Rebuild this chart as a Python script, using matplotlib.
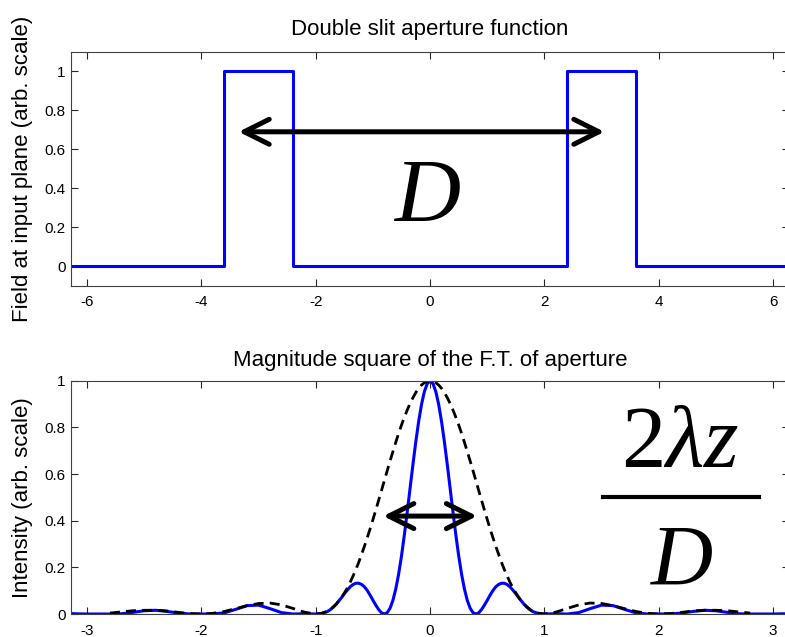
import numpy as np
import matplotlib.pyplot as plt

plt.rcParams['font.family'] = ['Liberation Sans', 'DejaVu Sans']
plt.rcParams['axes.unicode_minus'] = False
plt.rcParams['mathtext.fontset'] = 'custom'
plt.rcParams['mathtext.rm'] = 'Liberation Serif'
plt.rcParams['mathtext.it'] = 'Liberation Serif:italic'

# aperture (top panel): two slits
slit_edges = [(-3.6, -2.4), (2.4, 3.6)]
top_xlim = (-2 * np.pi, 2 * np.pi)

# diffraction pattern (bottom panel), read for x >= 0, symmetric about 0
pos_x = [0.0, 0.025, 0.05, 0.075, 0.1, 0.125, 0.15, 0.175, 0.2, 0.225, 0.25,
         0.275, 0.3, 0.325, 0.35, 0.375, 0.4, 0.425, 0.45, 0.475, 0.5, 0.525,
         0.55, 0.575, 0.6, 0.625, 0.65, 0.675, 0.7, 0.725, 0.75, 0.775, 0.8,
         0.825, 0.85, 0.875, 0.9, 0.95, 1.0, 1.1, 1.2, 1.3, 1.4, 1.5, 1.6,
         1.7, 1.8, 1.9, 2.0, 2.1, 2.2, 2.3, 2.4, 2.5, 2.6, 2.7, 2.8, 2.9,
         3.0, 3.1, 3.2]
intensity = [1.0, 0.988, 0.954, 0.899, 0.826, 0.739, 0.642, 0.540, 0.438,
             0.340, 0.250, 0.172, 0.108, 0.059, 0.025, 0.006, 0.0, 0.005,
             0.019, 0.038, 0.059, 0.081, 0.101, 0.117, 0.127, 0.132, 0.132,
             0.126, 0.116, 0.102, 0.087, 0.070, 0.055, 0.040, 0.028, 0.018,
             0.010, 0.002, 0.0, 0.001, 0.0, 0.006, 0.023, 0.038, 0.036, 0.020,
             0.005, 0.0, 0.0, 0.0, 0.004, 0.011, 0.016, 0.014, 0.007, 0.001,
             0.0, 0.0, 0.0, 0.001, 0.003]
envelope = [1.0, 0.998, 0.992, 0.982, 0.968, 0.950, 0.928, 0.903, 0.875,
            0.844, 0.811, 0.775, 0.737, 0.697, 0.657, 0.615, 0.573, 0.530,
            0.488, 0.446, 0.405, 0.365, 0.327, 0.290, 0.255, 0.221, 0.190,
            0.162, 0.135, 0.111, 0.090, 0.071, 0.055, 0.041, 0.029, 0.019,
            0.012, 0.003, 0.0, 0.008, 0.024, 0.039, 0.047, 0.045, 0.036,
            0.023, 0.011, 0.003, 0.0, 0.002, 0.007, 0.013, 0.016, 0.016,
            0.014, 0.009, 0.004]


def mirror(xs, ys):
    xs = np.asarray(xs)
    ys = np.asarray(ys)
    return np.concatenate([-xs[:0:-1], xs]), np.concatenate([ys[:0:-1], ys])


# build the step curve of the aperture
ap_x = [top_xlim[0]]
ap_y = [0]
for a, b in slit_edges:
    ap_x += [a, a, b, b]
    ap_y += [0, 1, 1, 0]
ap_x.append(top_xlim[1])
ap_y.append(0)

blue_x, blue_y = mirror(pos_x, intensity)
env_x, env_y = mirror(pos_x[:len(envelope)], envelope)

fig = plt.figure(figsize=(7.85, 6.37), dpi=100)
ax1 = fig.add_axes([0.0904, 0.5515, 0.915, 0.367])
ax2 = fig.add_axes([0.0904, 0.0361, 0.915, 0.366])


def style(ax):
    for s in ax.spines.values():
        s.set_color('#404040')
        s.set_linewidth(0.8)
    ax.tick_params(direction='in', top=True, right=True, length=5,
                   width=0.8, color='#262626', labelsize=11)
    ax.tick_params(axis='x', pad=7)
    ax.tick_params(axis='y', pad=4)


arrow = dict(arrowstyle='<->', lw=3.6, color='black',
             mutation_scale=45, shrinkA=0, shrinkB=0)

# top panel
ax1.plot(ap_x, ap_y, color='#0000ff', lw=2.2)
ax1.set_xlim(*top_xlim)
ax1.set_ylim(-0.1, 1.1)
ax1.set_xticks([-6, -4, -2, 0, 2, 4, 6])
ax1.set_yticks([0, 0.2, 0.4, 0.6, 0.8, 1])
ax1.set_yticklabels(['0', '0.2', '0.4', '0.6', '0.8', '1'])
ax1.set_title('Double slit aperture function', fontsize=16, pad=12)
ax1.set_ylabel('Field at input plane (arb. scale)', fontsize=16, labelpad=8)
ax1.annotate('', xy=(3.05, 0.69), xytext=(-3.35, 0.69), arrowprops=arrow)
ax1.text(-0.05, 0.234, r'$D$', fontsize=66, ha='center', va='baseline')
style(ax1)

# bottom panel
ax2.plot(blue_x, blue_y, color='#0000ff', lw=2.2)
ax2.plot(env_x, env_y, color='black', lw=2.0, linestyle=(0, (3.6, 2.2)))
ax2.set_xlim(-np.pi, np.pi)
ax2.set_ylim(0, 1)
ax2.set_xticks([-3, -2, -1, 0, 1, 2, 3])
ax2.set_yticks([0, 0.2, 0.4, 0.6, 0.8, 1])
ax2.set_yticklabels(['0', '0.2', '0.4', '0.6', '0.8', '1'])
ax2.set_title('Magnitude square of the F.T. of aperture', fontsize=16, pad=11)
ax2.set_ylabel('Intensity (arb. scale)', fontsize=16, labelpad=8)
ax2.annotate('', xy=(0.41, 0.42), xytext=(-0.41, 0.42), arrowprops=arrow)
ax2.text(2.19, 0.632, r'$2\lambda z$', fontsize=64, ha='center', va='baseline')
ax2.plot([1.51, 2.88], [0.5, 0.5], color='black', lw=3)
ax2.text(2.2, 0.125, r'$D$', fontsize=62, ha='center', va='baseline')
style(ax2)

plt.savefig('out.png', dpi=100)
